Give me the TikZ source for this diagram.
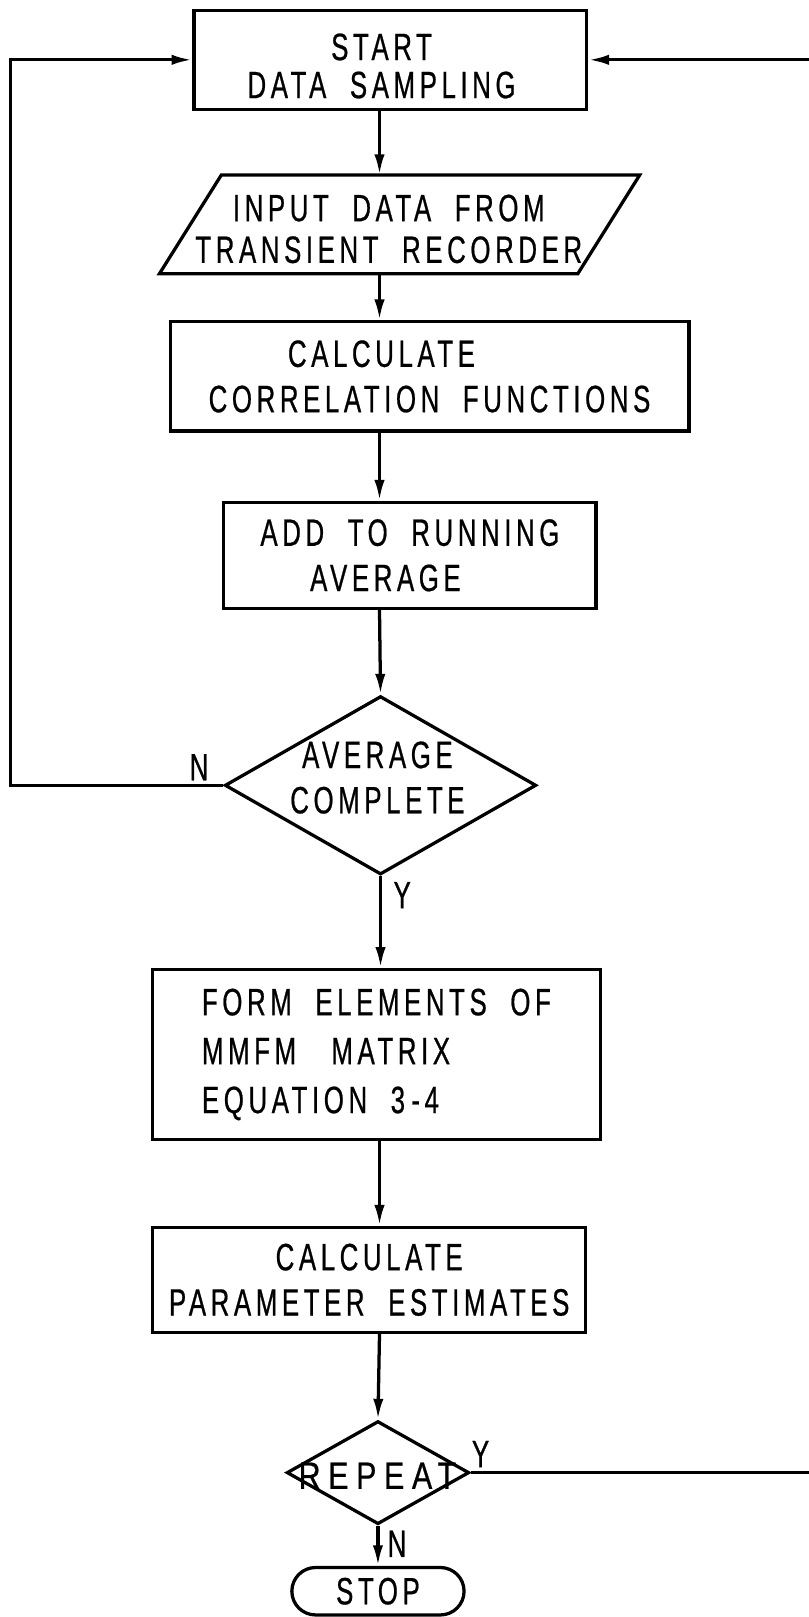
\documentclass[tikz,border=0pt]{standalone}
\usepackage{fontspec}
\setmainfont{Liberation Sans}[FakeStretch=0.68, LetterSpace=12, FakeBold=0.6]
\usetikzlibrary{arrows.meta, shapes.geometric, shapes.misc}
\begin{document}
\begin{tikzpicture}[x=0.2mm, y=-0.2mm, >={Latex[length=4mm, width=2mm]}, font=\fontsize{21}{25}\selectfont]
    % Data sampling and parameter estimation loop
    \tikzset{box/.style={draw, line width=1.8pt, align=center, inner sep=0pt}, flow/.style={->, line width=1.8pt}, plain/.style={line width=1.8pt}, tag/.style={inner sep=0pt}}
    \useasboundingbox (0,0) rectangle (784,1568);
    \coordinate (spine) at (368,0); \coordinate (lft) at (10,0); \coordinate (rgt) at (793,0);
    \node[box, minimum width=76.2mm, minimum height=19.2mm] (start) at (378.5,58) {};
    \node[align=center, inner sep=0pt] (starttext) at (370,64) {START\\[-4pt]DATA\ \ SAMPLING};
    \node[minimum width=93mm, minimum height=19mm, inner sep=0pt] (inbox) at (387.5,217.5) {};
    \draw[plain] ([xshift=12mm]inbox.north west) -- (inbox.north east) -- ([xshift=-12mm]inbox.south east) -- (inbox.south west) -- cycle;
    \node[align=center, inner sep=0pt] (input) at (377,222) {INPUT\ \ DATA\ \ FROM\\[-2pt]TRANSIENT\ \ RECORDER};
    \node[box, minimum width=100.6mm, minimum height=21.2mm] (calc) at (416.5,365) {CALCULATE\hspace*{53pt}\\CORRELATION\ \ FUNCTIONS};
    \node[box, minimum width=72.2mm, minimum height=20.6mm] (add) at (397.5,538.5) {ADD\ \ TO\ \ RUNNING\\AVERAGE\hspace*{27pt}};
    \node[diamond, draw, line width=1.8pt, minimum width=60.4mm, minimum height=34.6mm, inner sep=0pt] (avg) at (369,761.5) {};
    \node[align=center, inner sep=0pt] (avgtext) at (366,754) {AVERAGE\\COMPLETE};
    \node[box, align=left, minimum width=86.8mm, minimum height=33mm] (form) at (365,1022.5) {FORM\ \ ELEMENTS\ \ OF\\[2pt]MMFM\ \ \ MATRIX\\[2pt]EQUATION\ \ 3\,-4};
    \node[box, minimum width=84mm, minimum height=20.4mm] (param) at (358,1241) {CALCULATE\\PARAMETER\ \ ESTIMATES};
    \node[diamond, draw, line width=1.8pt, minimum width=35.4mm, minimum height=20mm, inner sep=0pt] (rep) at (366.5,1428) {};
    \node[inner sep=0pt] (reptext) at (366,1431) {\addfontfeatures{FakeStretch=0.8, LetterSpace=20}REPEAT};
    \node[rounded rectangle, draw, line width=1.8pt, minimum width=33.4mm, minimum height=9.2mm, inner sep=0pt] (stop) at (366.5,1543) {STOP};
    % vertical flow
    \draw[flow] (start.south -| spine) -- (inbox.north -| spine);
    \draw[flow] (inbox.south -| spine) -- (calc.north -| spine);
    \draw[flow] (calc.south -| spine) -- (add.north -| spine);
    \draw[flow] (add.south -| spine) -- (avg.north);
    \draw[flow] (avg.south) -- (form.north -| avg.south);
    \draw[flow] (form.south -| spine) -- (param.north -| spine);
    \draw[flow] (param.south -| spine) -- (rep.north);
    \draw[flow] (rep.south) -- (stop.north);
    % loops back to start
    \draw[flow] (avg.west) -- (avg.west -| lft) |- (start.west);
    \draw[flow] (rep.east) -- (rep.east -| rgt) |- (start.east);
    \node[tag] (avgn) at (193,744) {N}; \node[tag] (avgy) at (390,868) {Y};
    \node[tag] (repy) at (466,1410) {Y}; \node[tag] (repn) at (385,1497) {N};
\end{tikzpicture}
\end{document}
